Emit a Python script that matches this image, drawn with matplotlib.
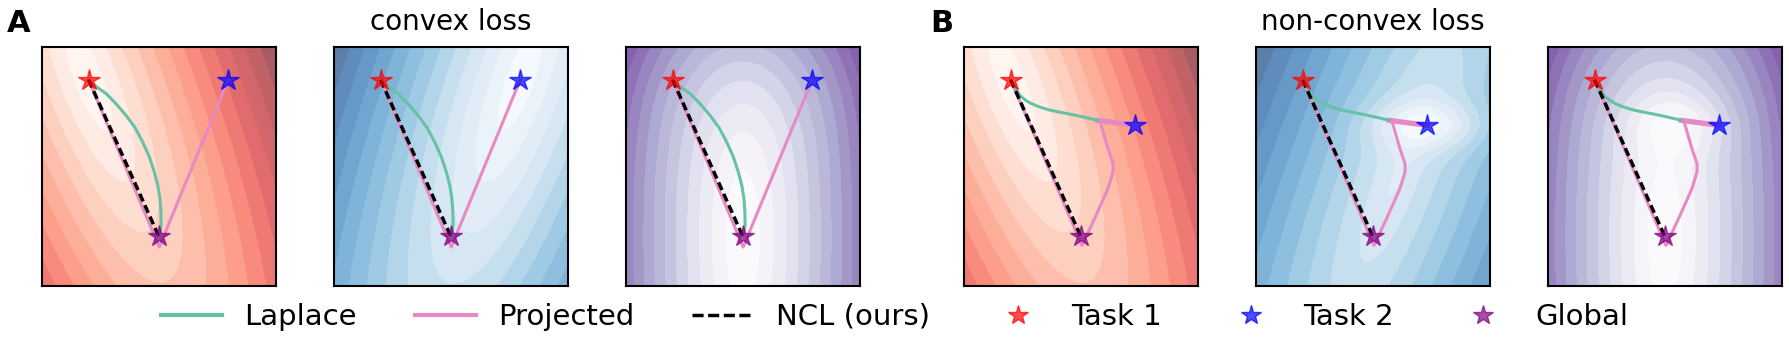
import matplotlib
matplotlib.use('Agg')
import matplotlib.pyplot as plt
import numpy as np
from matplotlib.lines import Line2D
from matplotlib.colors import ListedColormap

# ---- data (panel fraction coords, 0..1) ----
task1_xy = [0.199, 0.863]
task2_convex_xy = [0.796, 0.863]
task2_nonconvex_xy = [0.732, 0.672]
global_xy = [0.499, 0.208]

laplace_convex_x = [0.199, 0.224, 0.245, 0.274, 0.315, 0.359, 0.398, 0.430, 0.458,
                    0.480, 0.495, 0.504, 0.508, 0.509, 0.501]
laplace_convex_y = [0.863, 0.840, 0.825, 0.805, 0.764, 0.714, 0.662, 0.603, 0.542,
                    0.477, 0.420, 0.365, 0.310, 0.254, 0.212]
projected_convex_x = [0.199, 0.501, 0.796]
projected_convex_y = [0.863, 0.163, 0.863]

laplace_nonconvex_x = [0.199, 0.208, 0.217, 0.238, 0.262, 0.288, 0.320, 0.359, 0.405, 0.459, 0.515, 0.570]
laplace_nonconvex_y = [0.863, 0.848, 0.833, 0.798, 0.778, 0.763, 0.750, 0.738, 0.728, 0.718, 0.706, 0.693]
projected_nonconvex_x = [0.199, 0.504, 0.558, 0.615, 0.637, 0.637, 0.615, 0.580]
projected_nonconvex_y = [0.863, 0.170, 0.282, 0.407, 0.477, 0.512, 0.575, 0.693]
projected_jump_x = [0.570, 0.732]
projected_jump_y = [0.693, 0.672]

# loss landscape parameters
task1_valley_dir = [0.365, -0.93]
task2_valley_dir = [-0.342, -0.94]
valley_ratio = 3.7
global_coef = [138.0, 8.35, 24.1]          # dx^2, dy^2, dy^4
nc_task2_center = [0.60, 0.45]
nc_task2_dir = [-0.355, -0.935]
nc_task2_well = [0.16, 0.07, 0.27]         # sigma x, sigma y, depth
nc_global_well_center = [0.56, 0.68]
nc_global_well = [0.15, 0.085, 1.7]

legend_labels = ['Laplace', 'Projected', 'NCL (ours)', 'Task 1', 'Task 2', 'Global']

green = '#66c2a5'
pink = '#e78ac3'

g = np.linspace(0, 1, 300)
X, Y = np.meshgrid(g, g)


def valley(center, direction, ratio):
    u = np.array(direction) / np.linalg.norm(direction)
    dx = X - center[0]
    dy = Y - center[1]
    along = u[0] * dx + u[1] * dy
    across = -u[1] * dx + u[0] * dy
    return np.sqrt(across ** 2 + (along / ratio) ** 2)


def bowl(center, coef, power):
    dx = X - center[0]
    dy = Y - center[1]
    return (coef[0] * dx ** 2 + coef[1] * dy ** 2 + coef[2] * dy ** 4) ** power


def well(center, par):
    sx, sy, depth = par
    return depth * np.exp(-0.5 * (((X - center[0]) / sx) ** 2 + ((Y - center[1]) / sy) ** 2))


def faded(name, a=0.65):
    c = plt.get_cmap(name)(np.linspace(0, 1, 256))[:, :3]
    return ListedColormap(a * c + (1 - a))


f_task1 = valley(task1_xy, task1_valley_dir, valley_ratio)
f_task2 = valley(task2_convex_xy, task2_valley_dir, valley_ratio)
f_global = bowl(global_xy, global_coef, 0.6)
f_task2_nc = valley(nc_task2_center, nc_task2_dir, 4.0) - well(task2_nonconvex_xy, nc_task2_well)
f_global_nc = bowl(global_xy, global_coef, 0.6) - well(nc_global_well_center, nc_global_well)

fig = plt.figure(figsize=(17.89, 3.53), dpi=100)

lefts = [42, 334, 626, 964, 1256, 1548]
fields = [f_task1, f_task2, f_global, f_task1, f_task2_nc, f_global_nc]
cmaps = ['Reds', 'Blues', 'Purples', 'Reds', 'Blues', 'Purples']
nlev = [13, 13, 12, 13, 13, 12]

for i in range(6):
    ax = fig.add_axes([lefts[i] / 1789, 67 / 353, 234 / 1789, 239 / 353])
    F = fields[i]
    lev = np.linspace(F.min(), F.max(), nlev[i] + 1)
    ax.contourf(X, Y, F, levels=lev, cmap=faded(cmaps[i]), antialiased=False)
    if i < 3:
        ax.plot(projected_convex_x, projected_convex_y, color=pink, lw=2.2)
        ax.plot(laplace_convex_x, laplace_convex_y, color=green, lw=2.2)
        t2 = task2_convex_xy
    else:
        ax.plot(projected_nonconvex_x, projected_nonconvex_y, color=pink, lw=2.2)
        ax.plot(projected_jump_x, projected_jump_y, color=pink, lw=3.8)
        ax.plot(laplace_nonconvex_x, laplace_nonconvex_y, color=green, lw=2.2)
        t2 = task2_nonconvex_xy
    ax.plot([task1_xy[0], global_xy[0]], [task1_xy[1], global_xy[1]],
            color='k', ls='--', dashes=(2.4, 1.2), lw=2.5)
    ax.plot(task1_xy[0], task1_xy[1], '*', color='red', alpha=0.7, ms=16)
    ax.plot(t2[0], t2[1], '*', color='blue', alpha=0.7, ms=16)
    ax.plot(global_xy[0], global_xy[1], '*', color='purple', alpha=0.7, ms=16)
    ax.set_xlim(0, 1)
    ax.set_ylim(0, 1)
    ax.set_xticks([])
    ax.set_yticks([])
    for s in ax.spines.values():
        s.set_linewidth(1.5)

fig.text(451 / 1789, 0.915, 'convex loss', ha='center', va='baseline', fontsize=20)
fig.text(1373 / 1789, 0.915, 'non-convex loss', ha='center', va='baseline', fontsize=20)
fig.text(0.004, 0.91, 'A', ha='left', va='baseline', fontsize=22, fontweight='bold')
fig.text(930 / 1789, 0.91, 'B', ha='left', va='baseline', fontsize=22, fontweight='bold')

handles = [
    Line2D([], [], color=green, lw=3),
    Line2D([], [], color=pink, lw=3),
    Line2D([], [], color='k', ls='--', dashes=(3.2, 1.3), lw=2.5),
    Line2D([], [], marker='*', ls='', color='red', alpha=0.7, ms=15),
    Line2D([], [], marker='*', ls='', color='blue', alpha=0.7, ms=15),
    Line2D([], [], marker='*', ls='', color='purple', alpha=0.7, ms=15),
]
fig.legend(handles, legend_labels, loc='center', bbox_to_anchor=(0.5, 0.102), ncol=6,
           frameon=False, fontsize=21, handlelength=2.1, handletextpad=0.75,
           columnspacing=2.0)

fig.savefig('out.png', dpi=100)
